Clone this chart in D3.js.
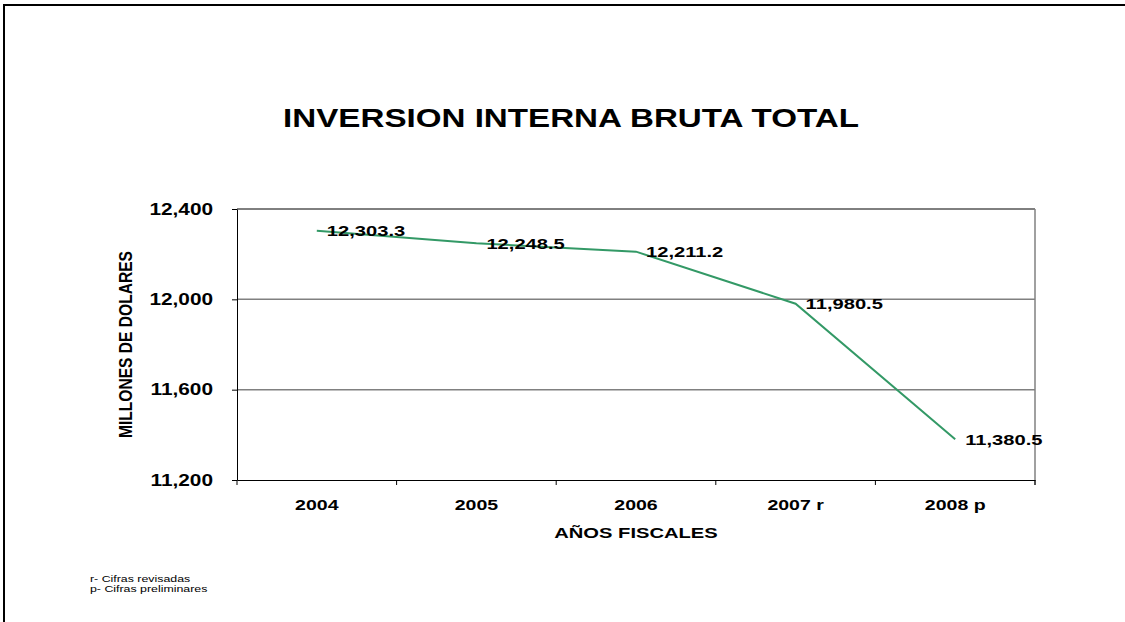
<!DOCTYPE html>
<html>
<head>
<meta charset="utf-8">
<script src="https://cdn.jsdelivr.net/npm/d3@7"></script>
<style>
  body { margin: 0; background: #fff; overflow: hidden; }
  svg { display: block; font-family: "Liberation Sans", Arial, sans-serif; }
</style>
</head>
<body>
<div id="chart"></div>
<script>
const years = ["2004", "2005", "2006", "2007 r", "2008 p"]
const values = [12303.3, 12248.5, 12211.2, 11980.5, 11380.5]
const yTicks = [11200, 11600, 12000, 12400]
const notes = ["r- Cifras revisadas", "p- Cifras preliminares"]

const width = 1125
const height = 622
const margin = {top: 209, right: 90, bottom: 142, left: 237}
// the original picture is stretched sideways, so text gets widened too
const stretchX = 1.3

const svg = d3.select("#chart")
  .append("svg")
  .attr("width", width)
  .attr("height", height)

function widen(sel) {
  sel.each(function() {
    const w = this.getComputedTextLength()
    d3.select(this)
      .attr("textLength", w * stretchX)
      .attr("lengthAdjust", "spacingAndGlyphs")
  })
}

// outer frame (top + left only)
svg.append("path")
  .attr("d", `M4,${height} L4,5 L${width},5`)
  .attr("fill", "none")
  .attr("stroke", "#000")
  .attr("stroke-width", 2)

const x = d3.scaleBand()
  .domain(years)
  .range([margin.left, width - margin.right])

const y = d3.scaleLinear()
  .domain([11200, 12400])
  .range([height - margin.bottom, margin.top])

const plotRight = width - margin.right

// gridlines
svg.append("g")
  .selectAll("line")
  .data(yTicks.slice(1, -1))
  .join("line")
  .attr("x1", margin.left)
  .attr("x2", plotRight)
  .attr("y1", d => y(d))
  .attr("y2", d => y(d))
  .attr("stroke", "#808080")
  .attr("stroke-width", 1.5)

// plot top + right border
svg.append("line")
  .attr("x1", margin.left).attr("x2", plotRight)
  .attr("y1", y(12400)).attr("y2", y(12400))
  .attr("stroke", "#000")
svg.append("line")
  .attr("x1", plotRight).attr("x2", plotRight)
  .attr("y1", y(12400)).attr("y2", y(11200) + 5)
  .attr("stroke", "#808080")
  .attr("stroke-width", 1.5)

// y axis
const yAxis = svg.append("g")
  .attr("transform", `translate(${margin.left},0)`)
  .call(d3.axisLeft(y).tickValues(yTicks).tickFormat(d3.format(","))
    .tickSize(5).tickSizeOuter(0).tickPadding(19))
yAxis.select(".domain").attr("stroke", "#000")
yAxis.selectAll("text")
  .attr("font-size", 16)
  .attr("font-weight", "bold")
  .attr("fill", "#000")
  .call(widen)

// x axis with ticks at category boundaries
const xAxis = svg.append("g")
  .attr("transform", `translate(0,${y(11200)})`)
  .call(d3.axisBottom(x).tickSize(0).tickSizeOuter(0))
xAxis.select(".domain").attr("stroke", "#000")
xAxis.selectAll("text")
  .attr("font-size", 15)
  .attr("font-weight", "bold")
  .attr("fill", "#000")
  .attr("y", 30)
  .attr("dy", 0)
  .call(widen)

const edges = years.map(d => x(d)).concat([plotRight])
svg.append("g")
  .selectAll("line")
  .data(edges)
  .join("line")
  .attr("x1", d => d).attr("x2", d => d)
  .attr("y1", y(11200)).attr("y2", y(11200) + 5)
  .attr("stroke", "#000")

// line
const cx = d => x(d) + x.bandwidth() / 2
const line = d3.line()
  .x((d, i) => cx(years[i]))
  .y(d => y(d))

svg.append("path")
  .datum(values)
  .attr("d", line)
  .attr("fill", "none")
  .attr("stroke", "#339966")
  .attr("stroke-width", 2)

// value labels
svg.append("g")
  .selectAll("text")
  .data(values)
  .join("text")
  .attr("x", (d, i) => cx(years[i]) + 10)
  .attr("y", d => y(d))
  .attr("dy", "0.35em")
  .attr("font-size", 15.5)
  .attr("font-weight", "bold")
  .text(d => d3.format(",.1f")(d))
  .call(widen)

// titles
svg.append("text")
  .attr("x", 571)
  .attr("y", 127)
  .attr("text-anchor", "middle")
  .attr("font-size", 25.5)
  .attr("font-weight", "bold")
  .text("INVERSION INTERNA BRUTA TOTAL")
  .call(widen)

svg.append("text")
  .attr("x", (margin.left + plotRight) / 2)
  .attr("y", 538)
  .attr("text-anchor", "middle")
  .attr("font-size", 15.5)
  .attr("font-weight", "bold")
  .text("AÑOS FISCALES")
  .call(widen)

svg.append("text")
  .attr("transform", `translate(132,${(y(11200) + y(12400)) / 2}) rotate(-90) scale(1,${stretchX})`)
  .attr("text-anchor", "middle")
  .attr("font-size", 14.5)
  .attr("font-weight", "bold")
  .attr("textLength", 187)
  .attr("lengthAdjust", "spacingAndGlyphs")
  .text("MILLONES DE DOLARES")

// footnotes
svg.append("g")
  .selectAll("text")
  .data(notes)
  .join("text")
  .attr("x", 90)
  .attr("y", (d, i) => 582 + i * 10)
  .attr("font-size", 9.5)
  .text(d => d)
  .call(widen)
</script>
</body>
</html>
